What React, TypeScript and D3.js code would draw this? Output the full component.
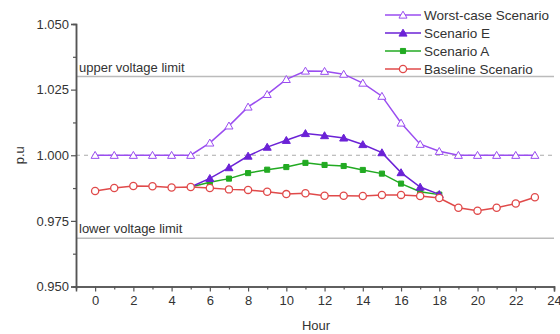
import React, { useEffect, useRef } from "react";
import * as d3 from "d3";

const hours = d3.range(0, 24);
const worstCase = [1.0, 1.0, 1.0, 1.0, 1.0, 1.0, 1.0047, 1.0112, 1.0184, 1.0232, 1.0289, 1.0321, 1.032, 1.0309, 1.0275, 1.0225, 1.0123, 1.0042, 1.0015, 1.0, 1.0, 1.0, 1.0, 1.0];
const scenEHours = [5, 6, 7, 8, 9, 10, 11, 12, 13, 14, 15, 16, 17, 18];
const scenarioE = [0.9879, 0.9912, 0.9953, 0.9997, 1.0031, 1.0057, 1.0083, 1.0075, 1.0066, 1.0041, 1.001, 0.9934, 0.9879, 0.9851];
const scenarioA = [0.9879, 0.9897, 0.9911, 0.9932, 0.9945, 0.9955, 0.9971, 0.9963, 0.9959, 0.9944, 0.993, 0.9892, 0.9861, 0.985];
const baseline = [0.9864, 0.9875, 0.9883, 0.9882, 0.9877, 0.9879, 0.9875, 0.987, 0.9868, 0.9861, 0.9852, 0.9855, 0.9846, 0.9846, 0.9845, 0.9849, 0.9849, 0.9845, 0.9837, 0.98, 0.9789, 0.98, 0.9816, 0.984];
const upperLimit = 1.03;
const lowerLimit = 0.9684;
const yTicks = [0.95, 0.975, 1.0, 1.025, 1.05];
const xTicks = d3.range(0, 25, 2);

const seriesNames = ["Worst-case Scenario", "Scenario E", "Scenario A", "Baseline Scenario"];

export default function App() {
  const svgRef = useRef<SVGSVGElement>(null);

  useEffect(() => {
    const w = 560;
    const h = 334;
    const svg = d3.select(svgRef.current);
    svg.selectAll("*").remove();

    const x = d3.scaleLinear().domain([-1, 24]).range([76, 554]);
    const y = d3.scaleLinear().domain([0.95, 1.05]).range([286.5, 24]);
    const font = "Liberation Sans, Arial, sans-serif";
    const textColor = "#333";

    // limit lines
    svg.append("line")
      .attr("x1", 76).attr("x2", 554)
      .attr("y1", y(upperLimit)).attr("y2", y(upperLimit))
      .attr("stroke", "#bbb").attr("stroke-width", 1.5);
    svg.append("line")
      .attr("x1", 76).attr("x2", 554)
      .attr("y1", y(lowerLimit)).attr("y2", y(lowerLimit))
      .attr("stroke", "#bbb").attr("stroke-width", 1.5);
    svg.append("line")
      .attr("x1", 76).attr("x2", 554)
      .attr("y1", y(1.0)).attr("y2", y(1.0))
      .attr("stroke", "#aaa").attr("stroke-width", 1).attr("stroke-dasharray", "4,4");

    svg.append("text").attr("x", 79).attr("y", y(upperLimit) - 5)
      .attr("font-family", font).attr("font-size", 13).attr("fill", textColor)
      .text("upper voltage limit");
    svg.append("text").attr("x", 79).attr("y", y(lowerLimit) - 5)
      .attr("font-family", font).attr("font-size", 13).attr("fill", textColor)
      .text("lower voltage limit");

    // axes
    const yAxis = d3.axisLeft(y).tickValues(yTicks).tickFormat(d3.format(".3f")).tickSize(5);
    const yMinor = d3.axisLeft(y).tickValues(d3.range(0.9625, 1.05, 0.025)).tickFormat(() => "").tickSize(3);
    const xAxis = d3.axisBottom(x).tickValues(xTicks).tickFormat(d3.format("d")).tickSize(5);
    const xMinor = d3.axisBottom(x).tickValues(d3.range(1, 24, 2)).tickFormat(() => "").tickSize(3);

    const gy = svg.append("g").attr("transform", "translate(76,0)").call(yAxis);
    svg.append("g").attr("transform", "translate(76,0)").call(yMinor);
    const gx = svg.append("g").attr("transform", "translate(0,286.5)").call(xAxis);
    svg.append("g").attr("transform", "translate(0,286.5)").call(xMinor);

    svg.selectAll(".domain").attr("stroke", "#555").attr("stroke-width", 1.5);
    svg.selectAll(".tick line").attr("stroke", "#555").attr("stroke-width", 1.2);
    gy.selectAll(".tick text").attr("font-family", font).attr("font-size", 13).attr("fill", textColor).attr("x", -7);
    gx.selectAll(".tick text").attr("font-family", font).attr("font-size", 13).attr("fill", textColor).attr("y", 9);

    svg.append("text").attr("x", 316).attr("y", 330).attr("text-anchor", "middle")
      .attr("font-family", font).attr("font-size", 13).attr("fill", textColor).text("Hour");
    svg.append("text").attr("transform", `translate(24,${y(1.0)}) rotate(-90)`).attr("text-anchor", "middle")
      .attr("font-family", font).attr("font-size", 13).attr("fill", textColor).text("p.u");

    const line = d3.line<[number, number]>().x((d) => x(d[0])).y((d) => y(d[1]));
    const tri = d3.symbol().type(d3.symbolTriangle).size(28);
    const sq = d3.symbol().type(d3.symbolSquare).size(26);

    type Series = { name: string; pts: [number, number][]; color: string; marker: string; fill: string };
    const series: Series[] = [
      { name: seriesNames[0], pts: hours.map((hr, i) => [hr, worstCase[i]]), color: "#9a4df0", marker: "tri", fill: "#fff" },
      { name: seriesNames[2], pts: scenEHours.map((hr, i) => [hr, scenarioA[i]]), color: "#22aa22", marker: "sq", fill: "#22aa22" },
      { name: seriesNames[1], pts: scenEHours.map((hr, i) => [hr, scenarioE[i]]), color: "#6b22d6", marker: "tri", fill: "#6b22d6" },
      { name: seriesNames[3], pts: hours.map((hr, i) => [hr, baseline[i]]), color: "#e04a4a", marker: "circle", fill: "#fff" },
    ];

    const drawMarker = (g: any, marker: string, color: string, fill: string, cx: number, cy: number) => {
      if (marker === "circle") {
        g.append("circle").attr("cx", cx).attr("cy", cy).attr("r", 3.6)
          .attr("fill", fill).attr("stroke", color).attr("stroke-width", 1.3);
      } else {
        g.append("path").attr("d", marker === "tri" ? tri() : sq())
          .attr("transform", `translate(${cx},${cy + (marker === "tri" ? 0.8 : 0)})`)
          .attr("fill", fill).attr("stroke", color).attr("stroke-width", 1);
      }
    };

    series.forEach((s) => {
      const g = svg.append("g");
      g.append("path").attr("d", line(s.pts)).attr("fill", "none")
        .attr("stroke", s.color).attr("stroke-width", 1.5);
      s.pts.forEach((p, i) => {
        if (s.marker !== "circle" && s.pts[0][0] === 5 && i === 0) return;
        drawMarker(g, s.marker, s.color, s.fill, x(p[0]), y(p[1]));
      });
    });

    // legend
    const legendOrder = [series[0], series[2], series[1], series[3]];
    legendOrder.forEach((s, i) => {
      const ly = 15 + i * 18;
      const g = svg.append("g");
      g.append("line").attr("x1", 385).attr("x2", 421).attr("y1", ly).attr("y2", ly)
        .attr("stroke", s.color).attr("stroke-width", 1.5);
      drawMarker(g, s.marker, s.color, s.fill, 403, ly);
      g.append("text").attr("x", 424).attr("y", ly + 5)
        .attr("font-family", font).attr("font-size", 13.5).attr("fill", textColor).text(s.name);
    });

    svg.attr("width", w).attr("height", h);
  }, []);

  return (
    <div>
      <svg ref={svgRef} style={{ position: "absolute", left: 0, top: 0, background: "#fff" }}></svg>
    </div>
  );
}
